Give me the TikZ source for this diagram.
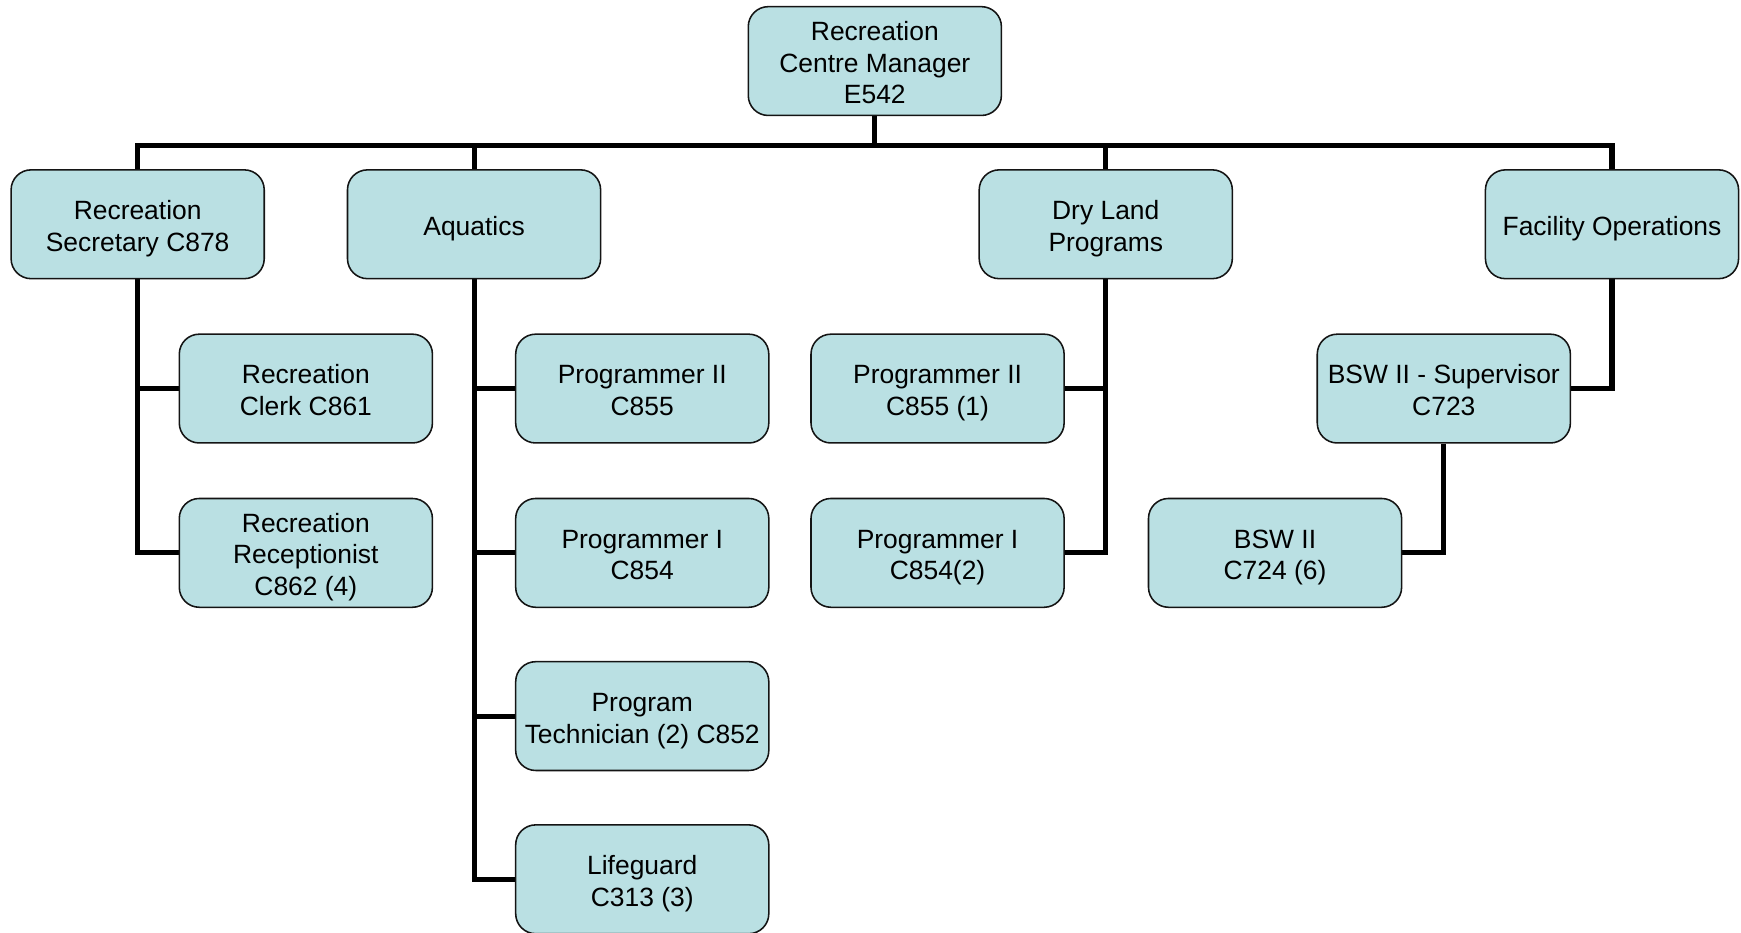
\documentclass[tikz,border=0pt]{standalone}
\usepackage{fontspec}
\setmainfont{Liberation Sans}
\usetikzlibrary{backgrounds}
\definecolor{boxfill}{RGB}{186,224,227}
\definecolor{boxline}{RGB}{20,20,20}
\newcommand{\bt}[1]{\begin{tabular}{@{}c@{}}\rule{0pt}{28.55pt}#1\end{tabular}}
\begin{document}
\begin{tikzpicture}[x=1pt,y=-1pt,
  orgbox/.style={draw=boxline, line width=1.4pt, fill=boxfill, rounded corners=18pt,
    minimum width=228pt, minimum height=98pt, inner sep=0pt,
    font=\fontsize{23.8}{28.5}\selectfont},
  conn/.style={line width=4.6pt, draw=black, line join=miter}]
\useasboundingbox (0,0) rectangle (1568.2,840.3);
\coordinate (busy) at (0,131);
\node[orgbox] (mgr) at (788,55) {\bt{Recreation\\Centre Manager\\E542}};
\node[orgbox] (sec) at (124,202) {\bt{Recreation\\Secretary C878}};
\node[orgbox] (aqu) at (427,202) {\bt{Aquatics}};
\node[orgbox] (dry) at (996,202) {\bt{Dry Land\\Programs}};
\node[orgbox] (fac) at (1452,202) {\bt{Facility Operations}};
\node[orgbox] (clerk) at (275.5,350) {\bt{Recreation\\Clerk C861}};
\node[orgbox] (recep) at (275.5,498) {\bt{Recreation\\Receptionist\\C862 (4)}};
\node[orgbox] (p2a) at (578.5,350) {\bt{Programmer II\\C855}};
\node[orgbox] (p1a) at (578.5,498) {\bt{Programmer I\\C854}};
\node[orgbox] (tech) at (578.5,645) {\bt{Program\\Technician (2) C852}};
\node[orgbox] (life) at (578.5,792) {\bt{Lifeguard\\C313 (3)}};
\node[orgbox] (p2b) at (844.5,350) {\bt{Programmer II\\C855 (1)}};
\node[orgbox] (p1b) at (844.5,498) {\bt{Programmer I\\C854(2)}};
\node[orgbox] (bsup) at (1300.5,350) {\bt{BSW II - Supervisor\\C723}};
\node[orgbox] (bsw) at (1148.5,498) {\bt{BSW II\\C724 (6)}};
\begin{scope}[on background layer]
  % top level bus
  \draw[conn] (mgr.south) -- (mgr.south |- busy);
  \draw[conn] (sec.north) -- (sec.north |- busy) -- (fac.north |- busy) -- (fac.north);
  \draw[conn] (aqu.north |- busy) -- (aqu.north);
  \draw[conn] (dry.north |- busy) -- (dry.north);
  % secretary
  \draw[conn] (sec.south) -- (sec.south |- recep.west) -- (recep.west);
  \draw[conn] (sec.south |- clerk.west) -- (clerk.west);
  % aquatics
  \draw[conn] (aqu.south) -- (aqu.south |- life.west) -- (life.west);
  \draw[conn] (aqu.south |- p2a.west) -- (p2a.west);
  \draw[conn] (aqu.south |- p1a.west) -- (p1a.west);
  \draw[conn] (aqu.south |- tech.west) -- (tech.west);
  % dry land
  \draw[conn] (dry.south) -- (dry.south |- p1b.east) -- (p1b.east);
  \draw[conn] (dry.south |- p2b.east) -- (p2b.east);
  % facility
  \draw[conn] (fac.south) -- (fac.south |- bsup.east) -- (bsup.east);
  \draw[conn] (bsup.south) -- (bsup.south |- bsw.east) -- (bsw.east);
\end{scope}
\end{tikzpicture}
\end{document}
